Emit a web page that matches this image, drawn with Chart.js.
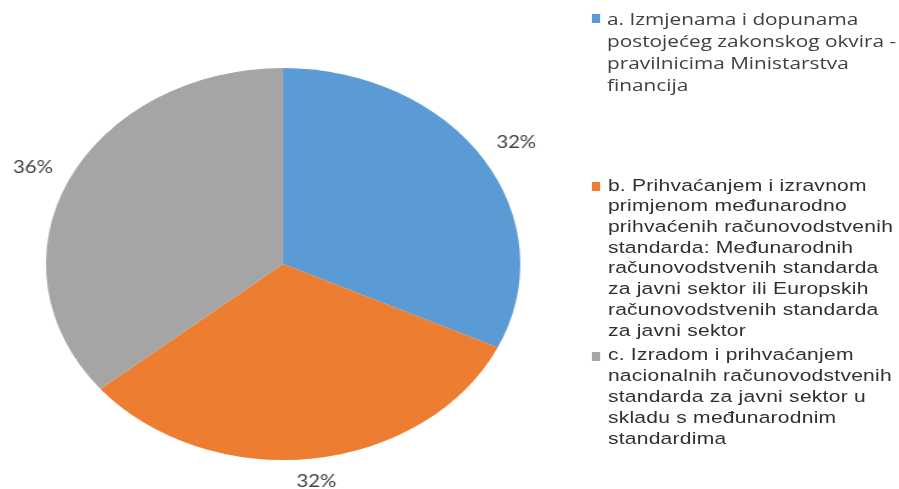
<!DOCTYPE html>
<html>
<head>
<meta charset="utf-8">
<script src="https://cdn.jsdelivr.net/npm/chart.js@4.4.1/dist/chart.umd.min.js"></script>
<style>
    html, body { margin: 0; padding: 0; background: #fff; overflow: hidden; }
    #wrap {
        position: absolute; left: 0; top: 0;
        width: 743px; height: 489px;
        transform: scaleX(1.21); transform-origin: 0 0;
    }
    #pie { position: absolute; left: 0; top: 0; }
    .item { position: absolute; left: 0; top: 0; }
    .box { position: absolute; width: 7.4px; height: 8.8px; }
    .txt { position: absolute; white-space: nowrap; }
    .txt span { display: block; }
    .calibri { font-family: "Open Sans", Lato, sans-serif; font-size: 17.2px; color: #404040; }
    .arial { font-family: "Liberation Sans", Arial, sans-serif; font-size: 17.4px; letter-spacing: 0.2px; color: #303030; }
</style>
</head>
<body>
<div id="wrap">
    <canvas id="pie" width="743" height="489"></canvas>
    <div id="legend"></div>
</div>
<script>
// chart data
let categories = ["a", "b", "c"];
let values = [32, 32, 36];
let colors = ["#5B9BD5", "#ED7D31", "#A5A5A5"];
let legendLines = [
    ["a. Izmjenama i dopunama", "postojećeg zakonskog okvira -", "pravilnicima Ministarstva", "financija"],
    ["b. Prihvaćanjem i izravnom", "primjenom međunarodno", "prihvaćenih računovodstvenih", "standarda: Međunarodnih",
     "računovodstvenih standarda", "za javni sektor ili Europskih", "računovodstvenih standarda", "za javni sektor"],
    ["c. Izradom i prihvaćanjem", "nacionalnih računovodstvenih", "standarda za javni sektor u", "skladu s međunarodnim",
     "standardima"]
];

// legend placement (unscaled px)
let legendLayout = [
    { cls: "calibri", boxTop: 14, textTop: 8.1, lineHeight: 22 },
    { cls: "arial", boxTop: 182.2, textTop: 174.6, lineHeight: 20.7 },
    { cls: "arial", boxTop: 352.3, textTop: 344.2, lineHeight: 21 }
];

let legend = document.getElementById("legend");
legendLines.forEach((lines, i) => {
    let lay = legendLayout[i];
    let item = document.createElement("div");
    item.className = "item";
    let box = document.createElement("div");
    box.className = "box";
    box.style.left = "488.6px";
    box.style.top = lay.boxTop + "px";
    box.style.background = colors[i];
    let txt = document.createElement("div");
    txt.className = "txt " + lay.cls;
    txt.style.left = (i === 0 ? 501.7 : 502.4) + "px";
    txt.style.top = lay.textTop + "px";
    txt.style.lineHeight = lay.lineHeight + "px";
    txt.innerHTML = lines.map(l => "<span>" + l + "</span>").join("");
    item.appendChild(box);
    item.appendChild(txt);
    legend.appendChild(item);
});

// percentage labels outside each slice
const outsideLabels = {
    id: "outsideLabels",
    afterDatasetsDraw(chart) {
        let ctx = chart.ctx;
        let meta = chart.getDatasetMeta(0);
        let total = values.reduce((a, b) => a + b, 0);
        ctx.save();
        ctx.font = "16.8px Lato";
        ctx.fillStyle = "#404040";
        ctx.textAlign = "center";
        ctx.textBaseline = "alphabetic";
        meta.data.forEach((arc, i) => {
            let p = arc.getProps(["x", "y", "startAngle", "endAngle", "outerRadius"], true);
            let mid = (p.startAngle + p.endAngle) / 2;
            let dx = Math.cos(mid), dy = Math.sin(mid);
            let text = Math.round(values[i] / total * 100) + "%";
            let w = ctx.measureText(text).width;
            let h = 12;
            let r = p.outerRadius + 15 + Math.abs(dx) * w / 2 + Math.abs(dy) * h / 2;
            ctx.fillText(text, p.x + dx * r, p.y + dy * r + h / 2);
        });
        ctx.restore();
    }
};

let ctx = document.getElementById("pie").getContext("2d");
new Chart(ctx, {
    type: "pie",
    data: {
        labels: categories,
        datasets: [{
            data: values,
            backgroundColor: colors,
            borderWidth: 0
        }]
    },
    options: {
        responsive: false,
        animation: false,
        layout: { padding: { left: 38, top: 68, right: 313, bottom: 29 } },
        plugins: {
            legend: { display: false },
            tooltip: { enabled: false }
        }
    },
    plugins: [outsideLabels]
});
</script>
</body>
</html>
